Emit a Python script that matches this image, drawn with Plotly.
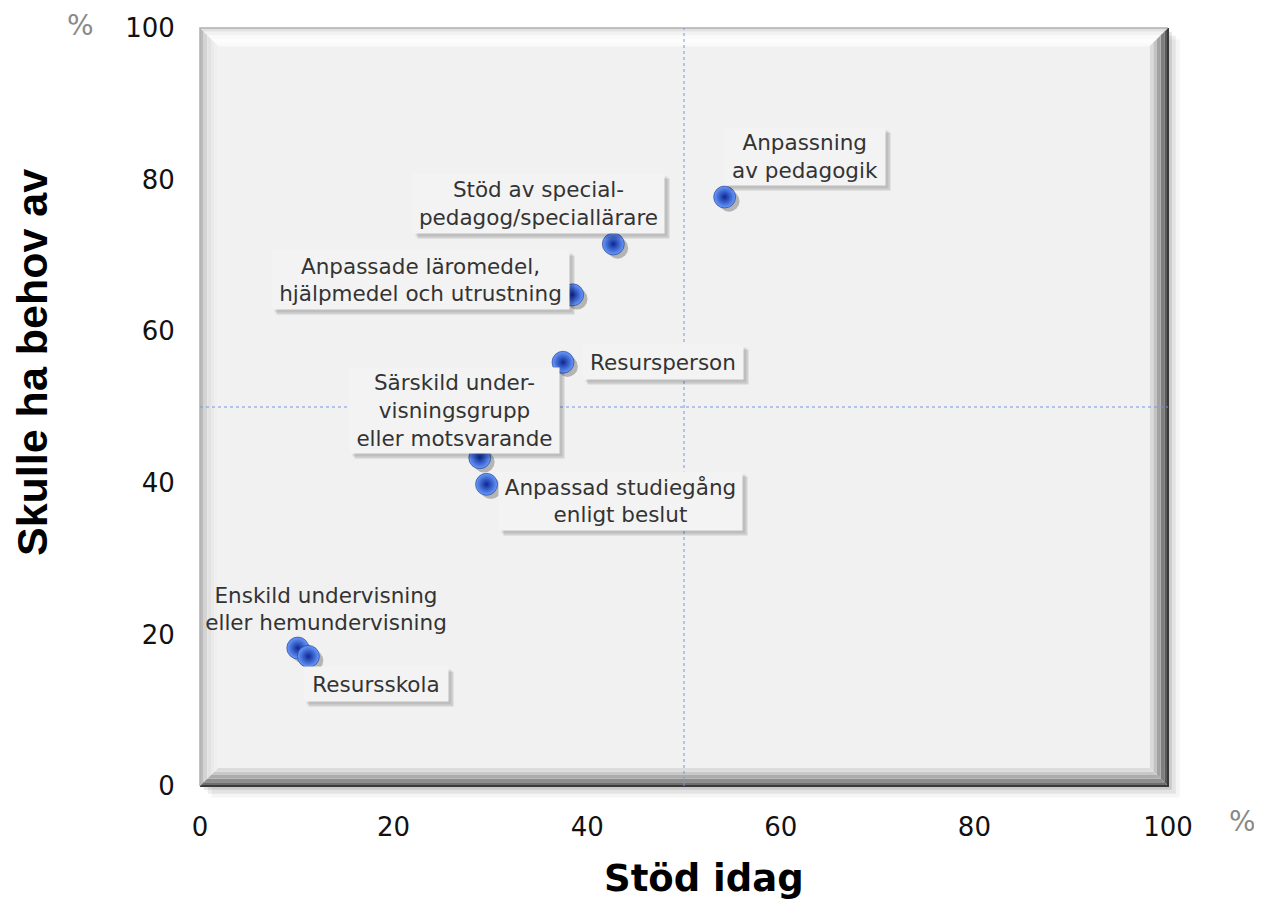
import plotly.graph_objects as go

labels = [
    "Anpassning<br>av pedagogik",
    "Stöd av special-<br>pedagog/speciallärare",
    "Anpassade läromedel,<br>hjälpmedel och utrustning",
    "Resursperson",
    "Särskild under-<br>visningsgrupp<br>eller motsvarande",
    "Anpassad studiegång<br>enligt beslut",
    "Enskild undervisning<br>eller hemundervisning",
    "Resursskola",
]
stod_idag = [54.2, 42.7, 38.5, 37.5, 28.9, 29.6, 10.1, 11.2]
behov = [77.7, 71.5, 64.8, 55.9, 43.3, 39.8, 18.2, 17.1]
x_ticks = [0, 20, 40, 60, 80, 100]
y_ticks = [0, 20, 40, 60, 80, 100]

# label box layout: offset of box centre from point (px, screen-down), box size, boxed?
label_offsets = [(80, -41), (-75, -41), (-152, -15), (100, 0), (-25, -47), (134, 17), (28, -39), (68, 28)]
box_sizes = [(160, 57), (251, 59), (297, 58), (160, 34), (209, 85), (243, 58), (260, 60), (144, 34)]
boxed = [True, True, True, True, True, True, False, True]

FONT = "DejaVu Sans"
PAGE_OFF = 8  # browser body margin
W, H = 1262 - PAGE_OFF, 900 - PAGE_OFF
L, R, T, B = 200 - PAGE_OFF, 94, 28 - PAGE_OFF, 114
pw, ph = W - L - R, H - T - B

fig = go.Figure()

# sphere shadows drawn on slightly shifted overlay axes (x2/y2), spheres on top (x3/y3)
fig.add_trace(go.Scatter(
    x=stod_idag, y=behov, mode="markers", xaxis="x2", yaxis="y2",
    marker=dict(size=21, color="rgba(0,0,0,0.25)", line=dict(width=0)),
    hoverinfo="skip", showlegend=False,
))
fig.add_trace(go.Scatter(
    x=stod_idag, y=behov, mode="markers", xaxis="x3", yaxis="y3",
    marker=dict(size=22, color="#6a9cff",
                gradient=dict(type="radial", color="#0b2794"),
                line=dict(width=0.5, color="#0a2070")),
    text=[l.replace("<br>", " ") for l in labels],
    hoverinfo="text", showlegend=False,
))

annotations = []
for lab, xv, yv, (dx, dy), (bw, bh), bx in zip(labels, stod_idag, behov, label_offsets, box_sizes, boxed):
    if bx:
        annotations.append(dict(
            x=xv, y=yv, xref="x", yref="y", text="", showarrow=False,
            xanchor="center", yanchor="middle",
            xshift=dx + 5, yshift=-dy - 5, width=bw, height=bh,
            bgcolor="rgba(0,0,0,0.13)", borderpad=0,
        ))
        annotations.append(dict(
            x=xv, y=yv, xref="x", yref="y", text="", showarrow=False,
            xanchor="center", yanchor="middle",
            xshift=dx + 3, yshift=-dy - 3, width=bw, height=bh,
            bgcolor="rgba(0,0,0,0.09)", borderpad=0,
        ))
    annotations.append(dict(
        x=xv, y=yv, xref="x", yref="y", text=lab, showarrow=False,
        xanchor="center", yanchor="middle",
        xshift=dx, yshift=-dy, align="center", valign="middle",
        width=bw, height=bh,
        font=dict(family=FONT, size=21.5, color="#333333"),
        bgcolor="#f3f3f3" if bx else "rgba(0,0,0,0)", borderpad=0,
    ))

def px_to_paper(px, py):
    # px, py in page pixels
    return (px - PAGE_OFF - L) / pw, (H - B - (py - PAGE_OFF)) / ph

for (px, py) in [(80, 25), (1242, 821)]:
    xx, yy = px_to_paper(px, py)
    annotations.append(dict(x=xx, y=yy, xref="paper", yref="paper", text="%",
                            showarrow=False, xanchor="center", yanchor="middle",
                            font=dict(family=FONT, size=28, color="#8a8a8a")))

# axis titles
xx, yy = px_to_paper(704, 878)
annotations.append(dict(x=xx, y=yy, xref="paper", yref="paper", text="<b>Stöd idag</b>",
                        showarrow=False, xanchor="center", yanchor="middle",
                        font=dict(family=FONT, size=37, color="#000000")))
xx, yy = px_to_paper(32, 363)
annotations.append(dict(x=xx, y=yy, xref="paper", yref="paper", text="<b>Skulle ha behov av</b>",
                        showarrow=False, textangle=-90, xanchor="center", yanchor="middle",
                        font=dict(family="Liberation Sans", size=43, color="#000000")))

shapes = []
# soft outer drop shadow
for off, a in [(0.004, 0.10), (0.008, 0.07), (0.012, 0.04)]:
    shapes.append(dict(type="rect", xref="x domain", yref="y domain",
                       x0=off, x1=1 + off, y0=-off * 1.27, y1=1 - off * 1.27,
                       fillcolor=f"rgba(0,0,0,{a})", line=dict(width=0), layer="below"))
shapes.append(dict(type="rect", xref="x domain", yref="y domain",
                   x0=0, x1=1, y0=0, y1=1, fillcolor="#ffffff",
                   line=dict(width=0), layer="below"))

bx_ = 0.019
by_ = 0.024
n = 5
top_cols = ["#e2e2e2", "#f2f2f2", "#fafafa", "#fdfdfd", "#fafafa"]
left_cols = ["#bcbcbc", "#d4d4d4", "#e2e2e2", "#eaeaea", "#efefef"]
right_cols = ["#5a5a5a", "#7e7e7e", "#a2a2a2", "#c2c2c2", "#dadada"]
bottom_cols = ["#6e6e6e", "#8e8e8e", "#acacac", "#c8c8c8", "#dcdcdc"]
for i in range(n):
    a0, a1 = i / n, (i + 1) / n
    ox0, oy0 = bx_ * a0, by_ * a0
    ox1, oy1 = bx_ * a1, by_ * a1
    shapes.append(dict(type="path", xref="x domain", yref="y domain",
                       path=f"M{ox0},{1-oy0} L{1-ox0},{1-oy0} L{1-ox1},{1-oy1} L{ox1},{1-oy1} Z",
                       fillcolor=top_cols[i], line=dict(width=0), layer="below"))
    shapes.append(dict(type="path", xref="x domain", yref="y domain",
                       path=f"M{ox0},{1-oy0} L{ox1},{1-oy1} L{ox1},{oy1} L{ox0},{oy0} Z",
                       fillcolor=left_cols[i], line=dict(width=0), layer="below"))
    shapes.append(dict(type="path", xref="x domain", yref="y domain",
                       path=f"M{1-ox0},{1-oy0} L{1-ox0},{oy0} L{1-ox1},{oy1} L{1-ox1},{1-oy1} Z",
                       fillcolor=right_cols[i], line=dict(width=0), layer="below"))
    shapes.append(dict(type="path", xref="x domain", yref="y domain",
                       path=f"M{ox0},{oy0} L{1-ox0},{oy0} L{1-ox1},{oy1} L{ox1},{oy1} Z",
                       fillcolor=bottom_cols[i], line=dict(width=0), layer="below"))
shapes.append(dict(type="rect", xref="x domain", yref="y domain",
                   x0=bx_, x1=1 - bx_, y0=by_, y1=1 - by_,
                   fillcolor="#f1f1f1", line=dict(width=0), layer="below"))
shapes.append(dict(type="path", xref="x domain", yref="y domain",
                   path="M0,0 L1,0 L1,1",
                   line=dict(color="#3a3a3a", width=2), layer="below"))
shapes.append(dict(type="path", xref="x domain", yref="y domain",
                   path="M0,0 L0,1 L1,1",
                   line=dict(color="#b0b0b0", width=1.5), layer="below"))
# midlines
shapes.append(dict(type="line", xref="x", yref="y domain", x0=50, x1=50, y0=0, y1=1,
                   line=dict(color="#6f9ae8", width=1, dash="dot"), layer="below"))
shapes.append(dict(type="line", xref="x domain", yref="y", x0=0, x1=1, y0=50, y1=50,
                   line=dict(color="#6f9ae8", width=1, dash="dot"), layer="below"))

fig.update_layout(
    width=W, height=H,
    margin=dict(l=L, r=R, t=T, b=B, autoexpand=False),
    paper_bgcolor="white",
    plot_bgcolor="rgba(0,0,0,0)",
    font=dict(family=FONT, color="#000000"),
    xaxis=dict(range=[0, 100], tickvals=x_ticks, showgrid=False, zeroline=False,
               showline=False, ticks="outside", ticklen=0, tickcolor="rgba(0,0,0,0)",
               ticklabelstandoff=18,
               tickfont=dict(family=FONT, size=26, color="#111111")),
    yaxis=dict(range=[0, 100], tickvals=y_ticks, showgrid=False, zeroline=False,
               showline=False, ticks="outside", ticklen=0, tickcolor="rgba(0,0,0,0)",
               ticklabelstandoff=19,
               tickfont=dict(family=FONT, size=26, color="#111111")),
    xaxis2=dict(range=[-0.45, 99.55], overlaying="x", visible=False),
    yaxis2=dict(range=[0.55, 100.55], overlaying="y", visible=False),
    xaxis3=dict(range=[0, 100], overlaying="x", visible=False),
    yaxis3=dict(range=[0, 100], overlaying="y", visible=False),
    annotations=annotations,
    shapes=shapes,
)

fig.write_html("out.html")
